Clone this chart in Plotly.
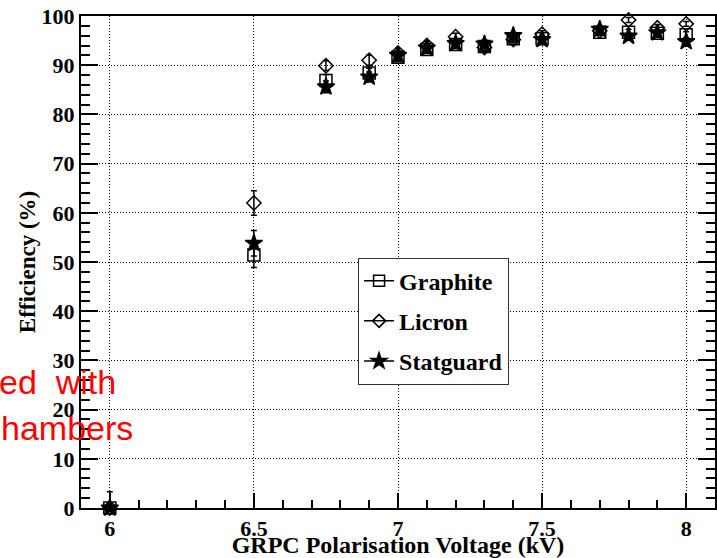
import plotly.graph_objects as go

# GRPC efficiency vs. polarisation voltage for three resistive coatings
voltage_kv = [6.0, 6.5, 6.75, 6.9, 7.0, 7.1, 7.2, 7.3, 7.4, 7.5, 7.7, 7.8, 7.9, 8.0]

graphite = [0.0, 51.4, 86.9, 88.4, 91.6, 93.2, 94.2, 93.8, 95.4, 95.4, 96.7, 96.7, 96.5, 96.2]
graphite_err = [0.0, 2.5, 1.2, 1.0, 0.9, 0.8, 0.8, 0.8, 0.7, 0.7, 0.6, 0.6, 0.6, 0.6]

licron = [0.0, 62.0, 89.9, 91.0, 92.5, 94.0, 95.8, 93.6, 95.2, 96.3, 97.0, 99.2, 97.6, 98.4]
licron_err_up = [3.3, 2.5, 1.0, 1.0, 0.9, 0.8, 0.7, 0.8, 0.7, 0.7, 0.6, 0.5, 0.6, 0.5]
licron_err_down = [0.0, 2.5, 1.0, 1.0, 0.9, 0.8, 0.7, 0.8, 0.7, 0.7, 0.6, 0.5, 0.6, 0.5]

statguard = [0.0, 53.8, 85.6, 87.6, 92.0, 93.5, 94.4, 94.3, 96.0, 95.2, 97.3, 95.9, 96.6, 94.8]
statguard_err = [0.0, 2.6, 1.2, 1.0, 0.9, 0.8, 0.8, 0.8, 0.7, 0.7, 0.6, 0.6, 0.6, 0.6]

series_names = ["Graphite", "Licron", "Statguard"]
series_symbols = ["square-open", "diamond-open", "star"]
series_sizes = [12, 11, 13]
legend_sizes = [11, 10, 12]

SERIF = "Liberation Serif"
SANS = "Liberation Sans"

fig = go.Figure()

series = [
    (graphite, dict(type="data", array=graphite_err, symmetric=True)),
    (licron, dict(type="data", array=licron_err_up, arrayminus=licron_err_down, symmetric=False)),
    (statguard, dict(type="data", array=statguard_err, symmetric=True)),
]

for (values, err), name, sym, size in zip(series, series_names, series_symbols, series_sizes):
    err.update(color="black", thickness=1.5, width=3)
    fig.add_trace(go.Scatter(
        x=voltage_kv, y=values, mode="markers", name=name,
        marker=dict(symbol=sym, size=size, color="black",
                    line=dict(color="black", width=1.5)),
        error_y=err, showlegend=False, cliponaxis=False,
    ))

# legend entries: horizontal bar through the marker, one group each for spacing
for i, (name, sym, size) in enumerate(zip(series_names, series_symbols, legend_sizes)):
    fig.add_trace(go.Scatter(
        x=[None], y=[None], mode="lines+markers", name=name,
        legendgroup=f"g{i}",
        line=dict(color="black", width=1.5),
        marker=dict(symbol=sym, size=size, color="black",
                    line=dict(color="black", width=1.5)),
    ))

tick_font = dict(family=SERIF, size=22, color="black", weight="bold")
title_font = dict(family=SERIF, size=24, color="black", weight="bold")
dotted = "1px,2px"

fig.update_xaxes(
    range=[5.9, 8.1], tick0=6, dtick=0.5,
    ticks="inside", ticklen=15, tickwidth=1.5, tickcolor="black",
    minor=dict(dtick=0.1, tick0=6, ticks="inside", ticklen=8, tickwidth=1.5,
               tickcolor="black", showgrid=False),
    showgrid=True, gridcolor="black", gridwidth=1, griddash=dotted,
    showline=True, linecolor="black", linewidth=2, mirror=True,
    zeroline=False, tickfont=tick_font,
    title=dict(text="GRPC Polarisation Voltage (kV)", font=title_font, standoff=0),
)
fig.update_yaxes(
    range=[0, 100], tick0=0, dtick=10,
    ticks="inside", ticklen=17, tickwidth=1.5, tickcolor="black",
    minor=dict(dtick=2, tick0=0, ticks="inside", ticklen=9, tickwidth=1.5,
               tickcolor="black", showgrid=False),
    showgrid=True, gridcolor="black", gridwidth=1, griddash=dotted,
    showline=True, linecolor="black", linewidth=2, mirror="ticks",
    zeroline=False, tickfont=tick_font,
    title=dict(text="Efficiency (%)", font=dict(family=SERIF, size=23, color="black", weight="bold"),
               standoff=0),
)

fig.add_annotation(text="ed  with", xref="paper", yref="paper",
                   x=0.058, y=0.256, xanchor="right", yanchor="middle",
                   showarrow=False, font=dict(family=SANS, size=34, color="red"))
fig.add_annotation(text="hambers", xref="paper", yref="paper",
                   x=0.085, y=0.163, xanchor="right", yanchor="middle",
                   showarrow=False, font=dict(family=SANS, size=34, color="red"))

fig.update_layout(
    width=717, height=558,
    margin=dict(l=81, r=0, t=16, b=50),
    paper_bgcolor="white", plot_bgcolor="white",
    legend=dict(x=0.437, y=0.509, xanchor="left", yanchor="top",
                bgcolor="white", bordercolor="#333", borderwidth=1,
                font=dict(family=SERIF, size=24, color="black", weight="bold"),
                itemwidth=30, tracegroupgap=6, traceorder="grouped"),
)

fig.write_html("out.html")
